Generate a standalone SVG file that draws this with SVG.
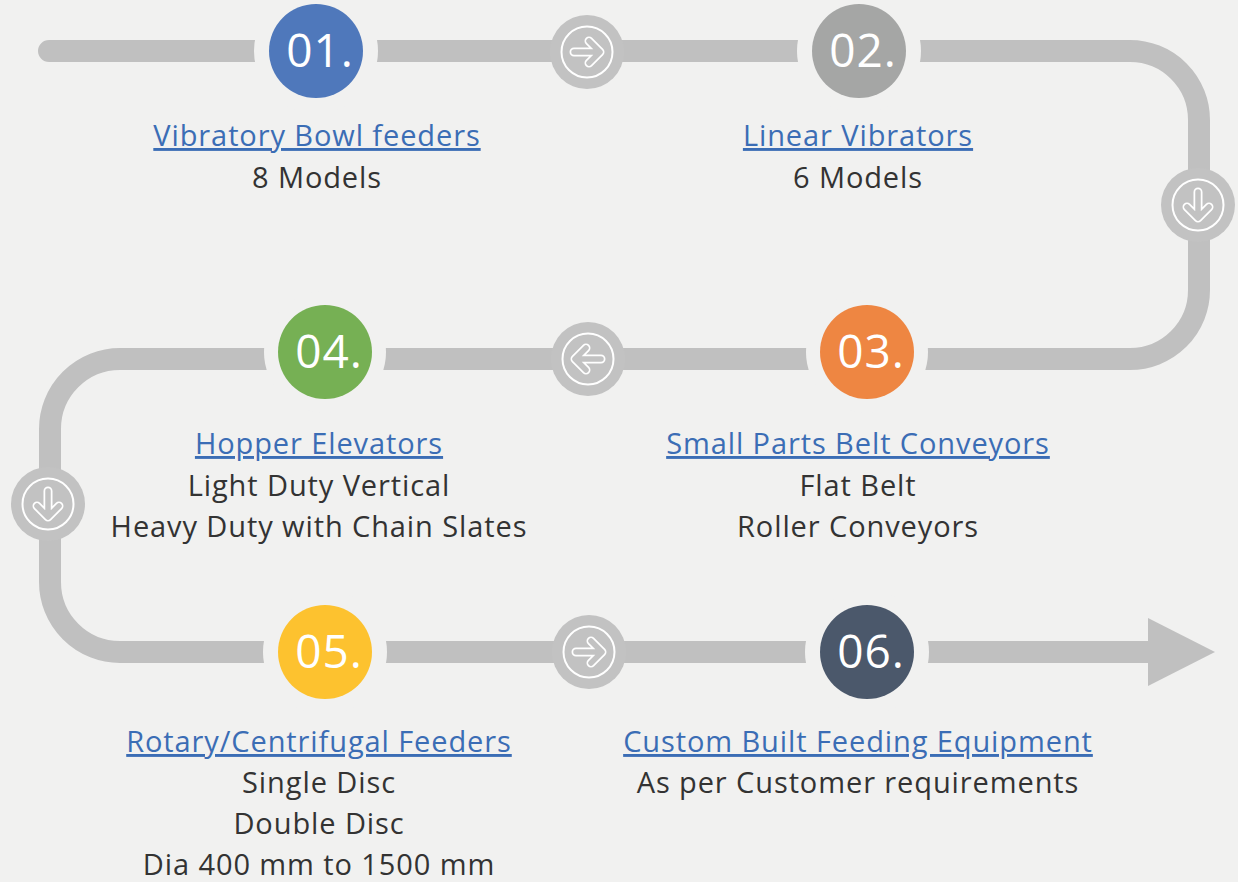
<svg xmlns="http://www.w3.org/2000/svg" width="1238" height="882" viewBox="0 0 1238 882">
  <style>
    .track { fill: none; stroke: #c0c0c0; stroke-width: 22; }
    .gap { fill: #f1f1f0; }
    .num { font-family: "Open Sans", "Liberation Sans", sans-serif; font-size: 46px; letter-spacing: 1px; fill: #ffffff; text-anchor: middle; }
    .title { font-family: "Open Sans", "Liberation Sans", sans-serif; font-size: 29px; letter-spacing: 0.9px; fill: #3b6db5; text-anchor: middle; text-decoration: underline; }
    .sub { font-family: "Open Sans", "Liberation Sans", sans-serif; font-size: 29px; letter-spacing: 0.9px; fill: #333333; text-anchor: middle; }
    .hub { fill: #c2c2c2; }
    .ring { fill: none; stroke: #ffffff; stroke-width: 2; }
    .arrow-o { fill: none; stroke: #ffffff; stroke-width: 9; stroke-linecap: round; stroke-linejoin: round; }
    .arrow-i { fill: none; stroke: #c2c2c2; stroke-width: 5.5; stroke-linecap: round; stroke-linejoin: round; }
  </style>
  <defs>
    <!-- direction badge: grey disc, thin white ring, outlined arrow pointing right -->
    <g id="badge">
      <circle class="hub" r="37"/>
      <circle class="ring" r="25.5"/>
      <path class="arrow-o" d="M -13 0 H 12 M 2 -11 L 13 0 L 2 11"/>
      <path class="arrow-i" d="M -13 0 H 12 M 2 -11 L 13 0 L 2 11"/>
    </g>
  </defs>

  <rect width="1238" height="882" fill="#f1f1f0"/>

  <!-- serpentine track -->
  <g id="connectors">
    <path class="track" stroke-linecap="round" d="M 49 51 H 1130 A 69 69 0 0 1 1199 120 V 290 A 69 69 0 0 1 1130 359 H 120 A 70 70 0 0 0 50 429 V 582 A 70 70 0 0 0 120 652 H 1150"/>
    <polygon points="1148,618 1215,652 1148,686" fill="#c0c0c0"/>
    <use href="#badge" transform="translate(587,52)"/>
    <use href="#badge" transform="translate(1198,205) rotate(90)"/>
    <use href="#badge" transform="translate(588,359) rotate(180)"/>
    <use href="#badge" transform="translate(48,504) rotate(90)"/>
    <use href="#badge" transform="translate(589,652)"/>
  </g>

  <g id="step01">
    <circle class="gap" cx="316" cy="51" r="62"/>
    <circle cx="316" cy="51" r="47" fill="#4f78bb"/>
    <text class="num" x="320" y="67">01.</text>
    <text class="title" x="317" y="146">Vibratory Bowl feeders</text>
    <text class="sub" x="317" y="188">8 Models</text>
  </g>

  <g id="step02">
    <circle class="gap" cx="859" cy="51" r="62"/>
    <circle cx="859" cy="51" r="47" fill="#a5a6a5"/>
    <text class="num" x="863" y="67">02.</text>
    <text class="title" x="858" y="146">Linear Vibrators</text>
    <text class="sub" x="858" y="188">6 Models</text>
  </g>

  <g id="step03">
    <circle class="gap" cx="867" cy="352" r="61"/>
    <circle cx="867" cy="352" r="47" fill="#ee8642"/>
    <text class="num" x="871" y="368">03.</text>
    <text class="title" x="858" y="454">Small Parts Belt Conveyors</text>
    <text class="sub" x="858" y="496">Flat Belt</text>
    <text class="sub" x="858" y="537">Roller Conveyors</text>
  </g>

  <g id="step04">
    <circle class="gap" cx="325" cy="352" r="61"/>
    <circle cx="325" cy="352" r="47" fill="#76b054"/>
    <text class="num" x="329" y="368">04.</text>
    <text class="title" x="319" y="454">Hopper Elevators</text>
    <text class="sub" x="319" y="496">Light Duty Vertical</text>
    <text class="sub" x="319" y="537">Heavy Duty with Chain Slates</text>
  </g>

  <g id="step05">
    <circle class="gap" cx="325" cy="652" r="62"/>
    <circle cx="325" cy="652" r="47" fill="#fdc22f"/>
    <text class="num" x="329" y="668">05.</text>
    <text class="title" x="319" y="752">Rotary/Centrifugal Feeders</text>
    <text class="sub" x="319" y="793">Single Disc</text>
    <text class="sub" x="319" y="834">Double Disc</text>
    <text class="sub" x="319" y="875">Dia 400 mm to 1500 mm</text>
  </g>

  <g id="step06">
    <circle class="gap" cx="867" cy="652" r="62"/>
    <circle cx="867" cy="652" r="47" fill="#4b586b"/>
    <text class="num" x="871" y="668">06.</text>
    <text class="title" x="858" y="752">Custom Built Feeding Equipment</text>
    <text class="sub" x="858" y="793">As per Customer requirements</text>
  </g>
</svg>
